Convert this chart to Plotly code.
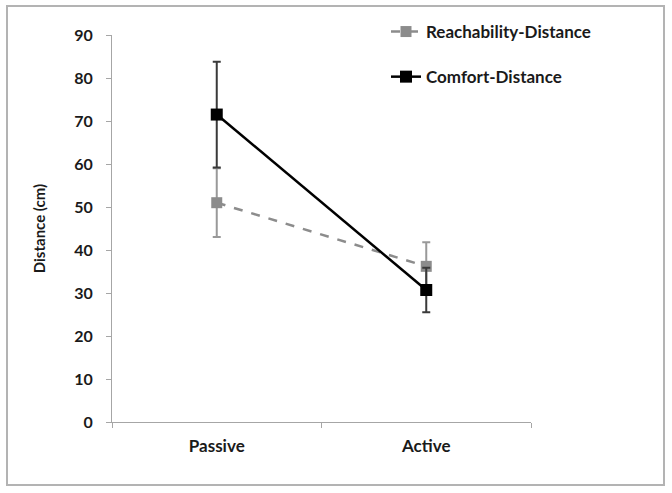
import plotly.graph_objects as go

conditions = ["Passive", "Active"]
reach_mean = [51.0, 36.2]
reach_err = [8.0, 5.6]
comfort_mean = [71.5, 30.7]
comfort_err = [12.3, 5.2]
y_ticks = [0, 10, 20, 30, 40, 50, 60, 70, 80, 90]

W, H = 672, 493
FONT = "Lato"

fig = go.Figure()
fig.add_trace(go.Scatter(
    x=conditions, y=reach_mean, name="Reachability-Distance",
    mode="lines+markers", legendgroup="a",
    line=dict(color="#8c8c8c", width=2.5, dash="dash"),
    marker=dict(symbol="square", size=11, color="#8c8c8c"),
    error_y=dict(type="data", array=reach_err, color="#999999", thickness=2, width=4),
))
fig.add_trace(go.Scatter(
    x=conditions, y=comfort_mean, name="Comfort-Distance",
    mode="lines+markers", legendgroup="b",
    line=dict(color="#000000", width=2.5),
    marker=dict(symbol="square", size=12, color="#000000"),
    error_y=dict(type="data", array=comfort_err, color="#3a3a3a", thickness=2, width=4),
))

fig.update_layout(
    width=W, height=H,
    margin=dict(l=0, r=0, t=0, b=0, autoexpand=False),
    paper_bgcolor="white", plot_bgcolor="white",
    font=dict(family=FONT, size=16, color="#1a1a1a", weight="bold"),
    showlegend=True,
    legend=dict(x=386 / W, y=1 - 14 / H, xanchor="left", yanchor="top",
                font=dict(size=17, family=FONT, weight="bold"),
                tracegroupgap=20, bgcolor="rgba(0,0,0,0)", itemwidth=30),
    xaxis=dict(domain=[112 / W, 531 / W], range=[-0.5, 1.5], automargin=False,
               showline=True, linecolor="#a6a6a6", linewidth=1,
               ticks="outside", ticklen=5, tickcolor="#a6a6a6",
               tickson="boundaries", showgrid=False, zeroline=False,
               ticklabelstandoff=9,
               tickfont=dict(size=17, family=FONT, weight="bold")),
    yaxis=dict(domain=[(H - 422) / H, (H - 35) / H], range=[0, 90], automargin=False,
               tickvals=y_ticks,
               showline=True, linecolor="#a6a6a6", linewidth=1,
               ticks="outside", ticklen=5, tickcolor="#a6a6a6",
               showgrid=False, zeroline=False,
               ticklabelstandoff=10,
               tickfont=dict(size=16, family=FONT, weight="bold"),
               title=dict(text="Distance (cm)", standoff=24,
                          font=dict(size=15, family=FONT, weight="bold"))),
    shapes=[dict(type="rect", xref="paper", yref="paper",
                 x0=7 / W, x1=664 / W, y0=(H - 485) / H, y1=(H - 6) / H,
                 line=dict(color="#b3b3b3", width=2))],
)

fig.write_html("out.html", config={"displayModeBar": False},
               post_script="document.body.style.margin='0';document.documentElement.style.overflow='hidden';")
